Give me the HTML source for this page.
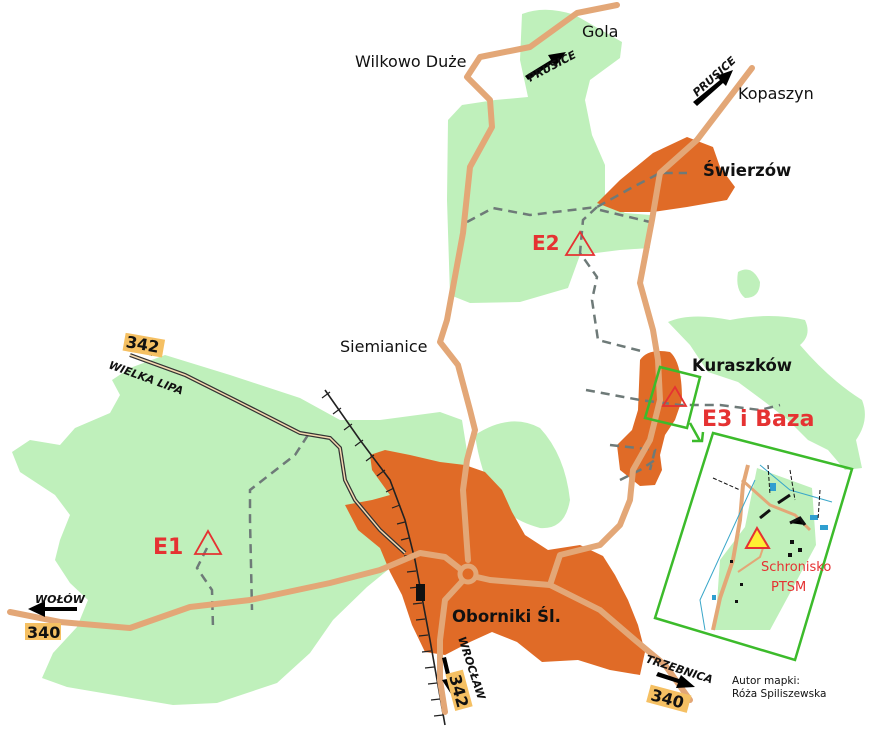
<!DOCTYPE html>
<html><head><meta charset="utf-8"><style>
html,body{margin:0;padding:0;background:#fff;}
svg{display:block;}
text{font-family:"DejaVu Sans","Liberation Sans",sans-serif;}
.b{font-family:"Liberation Sans",sans-serif;font-weight:bold;}
</style></head><body>
<svg width="880" height="733" viewBox="0 0 880 733" xmlns="http://www.w3.org/2000/svg">
<g fill="#bff0bb">
<path d="M165,355 L230,375 L300,398 L340,420 L380,420 L440,412 L462,420 L470,470 L470,560 L400,560 L367,587 L333,620 L310,653 L277,683 L217,703 L173,705 L67,687 L42,678 L53,653 L77,627 L88,600 L70,583 L55,560 L60,540 L70,515 L55,495 L20,472 L12,452 L30,440 L60,445 L75,428 L110,413 L120,395 L112,380 L130,368 Z"/>
<path d="M475,435 Q510,412 540,428 Q565,455 570,500 Q565,530 540,528 Q510,520 495,500 Q480,470 475,435 Z"/>
<path d="M522,14 Q545,5 575,15 L622,42 L620,58 L590,80 L585,100 L592,135 L605,165 L605,200 L625,213 L650,215 L650,248 L620,250 L580,255 L568,288 L520,302 L470,303 L450,295 L447,200 L448,120 L462,105 L495,100 L528,97 L520,60 Z"/>
<path d="M668,322 Q690,312 730,320 Q770,312 805,320 Q812,335 800,345 Q830,380 862,400 Q870,420 856,440 L862,468 L845,470 L828,450 L808,440 L788,420 L765,402 L738,382 L708,372 L690,345 Z"/>
<path d="M738,272 Q752,264 760,282 Q760,298 745,298 Q735,290 738,272 Z"/>
</g>
<g fill="#e06b27">
<path d="M597,203 L620,180 L653,153 L687,137 L713,147 L720,167 L735,187 L727,200 L687,207 L653,212 L620,212 Z"/>
<path d="M640,360 Q648,348 670,352 Q682,362 682,400 L675,420 L665,435 L660,455 L662,470 L655,485 L640,486 L620,470 L617,445 L632,430 L638,410 Z"/>
<path d="M345,505 L372,500 L390,495 L372,470 L370,455 L385,450 L410,455 L440,462 L465,465 L485,472 L502,490 L512,512 L525,535 L548,550 L580,545 L603,556 L615,575 L628,600 L638,625 L645,652 L640,675 L610,670 L578,660 L542,662 L517,642 L492,632 L470,642 L445,655 L425,652 L412,625 L402,595 L390,572 L380,548 L358,530 Z"/>
</g>
<g fill="none" stroke="#6e7a78" stroke-width="2.5" stroke-dasharray="9,6">
<path d="M467,222 L493,208 L530,215 L597,207 L633,187 L660,173 L687,173"/>
<path d="M600,210 L650,222"/>
<path d="M597,207 L583,220 L580,253 L597,277 L592,300 L598,340 L645,352"/>
<path d="M586,390 L640,400 L680,405 L720,405 L760,410 L780,405"/>
<path d="M610,445 L655,450 L650,470"/>
<path d="M620,480 L640,470 L655,460"/>
<path d="M308,435 L295,455 L250,490 L250,520 L252,610"/>
<path d="M207,548 L197,568 L212,590 L213,628"/>
</g>
<g stroke="#222" stroke-width="1.6" fill="none">
<path d="M325,390 L360,440 L390,480 L405,520 L415,560 L430,640 L445,725"/>
</g>
<g stroke="#222" stroke-width="1.2">
<path d="M322,398 L330,392 M333,414 L341,408 M344,430 L352,424 M355,446 L363,440 M366,461 L374,455 M377,476 L385,470 M386,492 L394,488 M392,508 L400,505 M397,524 L405,522 M401,540 L409,538 M404,556 L413,555 M407,572 L416,571 M410,588 L419,587 M413,604 L422,603 M416,620 L425,619 M419,636 L428,635 M422,652 L431,651 M425,668 L434,667 M428,684 L437,683 M431,700 L440,699 M434,716 L443,715"/>
</g>
<rect x="416" y="584" width="9" height="17" fill="#111"/>
<path d="M130,355 L185,375 L235,400 L300,433 L330,438 L340,448 L345,480 L355,500 L380,530 L405,553" fill="none" stroke="#333" stroke-width="4"/>
<path d="M130,355 L185,375 L235,400 L300,433 L330,438 L340,448 L345,480 L355,500 L380,530 L405,553" fill="none" stroke="#f5d9b0" stroke-width="1.5"/>
<g fill="none" stroke="#e3a777" stroke-width="6" stroke-linecap="round" stroke-linejoin="round">
<path d="M10,612 L60,622 L130,628 L190,607 L250,600 L330,583 L380,570 L420,553 L445,557 L468,575 L490,580 L550,585 L600,610 L635,640 L665,665 L690,700"/>
<path d="M617,5 L577,13 L530,47 L480,57 L467,77 L490,100 L492,127 L470,167 L463,233 L447,320 L440,342 L458,365 L470,410 L475,430 L467,460 L463,490 L468,560"/>
<path d="M752,68 L697,140 L660,173 L652,220 L640,283 L653,330 L658,360 L660,400 L650,440 L633,470 L630,500 L620,525 L600,545 L560,555 L550,585"/>
<path d="M468,575 L445,600 L440,640 L440,680 L445,712"/>
</g>
<circle cx="468" cy="574" r="8" fill="#e06b27" stroke="#e3a777" stroke-width="5"/>
<g fill="#000">
<path d="M525,76 L551,60 L548,55 L566,52 L555,67 L553,63 L528,80 Z"/>
<path d="M693,102 L720,80 L716,76 L733,70 L726,86 L723,83 L697,106 Z"/>
<path d="M77,607 L45,607 L45,601 L28,609 L45,617 L45,611 L77,611 Z"/>
<path d="M160,343 L150,347 L148,342 L134,350 L152,356 L151,351 L162,347 Z"/>
<path d="M442,658 L447,679 L442,680 L451,694 L455,678 L451,678 L446,657 Z"/>
<path d="M656,676 L678,683 L676,688 L695,687 L681,675 L679,679 L658,672 Z"/>
</g>
<g fill="#f5c063">
<rect x="124" y="336" width="40" height="18" transform="rotate(10 143 344)"/>
<rect x="25" y="623" width="36" height="17"/>
<rect x="441" y="682" width="38" height="18" transform="rotate(75 460 690)"/>
<rect x="648" y="690" width="42" height="18" transform="rotate(15 670 698)"/>
</g>
<g class="b" font-size="16" fill="#111">
<text x="126" y="350" transform="rotate(10 143 344)">342</text>
<text x="27" y="638">340</text>
<text x="444" y="697" transform="rotate(75 460 690)">342</text>
<text x="651" y="705" transform="rotate(15 670 698)">340</text>
</g>
<g class="b" font-size="11" font-style="italic" fill="#111">
<text x="530" y="82" transform="rotate(-28 530 82)">PRUSICE</text>
<text x="697" y="97" transform="rotate(-42 697 97)">PRUSICE</text>
<text x="108" y="368" transform="rotate(20 108 368)">WIELKA LIPA</text>
<text x="35" y="603">WOŁÓW</text>
<text x="458" y="638" transform="rotate(72 458 638)">WROCŁAW</text>
<text x="645" y="662" transform="rotate(18 645 662)">TRZEBNICA</text>
</g>
<g font-size="16" fill="#111">
<text x="355" y="67">Wilkowo Duże</text>
<text x="582" y="37">Gola</text>
<text x="738" y="99">Kopaszyn</text>
<text x="340" y="352">Siemianice</text>
</g>
<g font-size="16.5" font-weight="bold" fill="#111">
<text x="703" y="176">Świerzów</text>
<text x="692" y="371">Kuraszków</text>
<text x="452" y="622">Oborniki Śl.</text>
</g>
<g font-family="Liberation Sans" font-size="10.5" fill="#111">
<text x="732" y="684">Autor mapki:</text>
<text x="732" y="697">Róża Spiliszewska</text>
</g>
<g fill="none" stroke="#e53232" stroke-width="1.8">
<path d="M208,531 L221,554 L195,554 Z"/>
<path d="M580,232 L594,255 L566,255 Z"/>
<path d="M675,387 L686,406 L663,406 Z"/>
</g>
<g class="b" fill="#e53232">
<text x="153" y="554" font-size="22">E1</text>
<text x="532" y="250" font-size="20">E2</text>
<text x="702" y="426" font-size="22">E3 i Baza</text>
</g>
<g fill="none" stroke="#3cbb2b" stroke-width="2.5">
<path d="M660,367 L700,377 L687,428 L645,418 Z"/>
<path d="M713,433 L852,469 L795,660 L655,618 Z"/>
<path d="M690,423 L700,441 M692,441 L702,441 L703,432"/>
</g>
<g>
<path d="M757,468 L812,488 L816,545 L770,630 L715,630 L720,560 L745,527 Z" fill="#bff0bb"/>
<path d="M748,465 L743,485 L740,520 L733,560 L720,598 L713,630" fill="none" stroke="#e3a777" stroke-width="4"/>
<path d="M742,480 L770,505 L795,515 L810,530" fill="none" stroke="#e3a777" stroke-width="3"/>
<path d="M738,572 L760,557 L763,548" fill="none" stroke="#e3a777" stroke-width="2"/>
<path d="M760,465 L790,490 L832,502 M755,480 L700,600 L705,630" fill="none" stroke="#3aa7c9" stroke-width="1"/>
<path d="M760,518 L770,510 M778,503 L790,495 M790,523 L800,518 L805,525" stroke="#111" stroke-width="3"/>
<g fill="#2f9fd0"><rect x="770" y="483" width="6" height="8"/><rect x="810" y="515" width="8" height="5"/><rect x="820" y="525" width="8" height="5"/><rect x="712" y="595" width="4" height="5"/></g>
<path d="M757,528 L769,548 L746,548 Z" fill="#ffee33" stroke="#e53232" stroke-width="2"/>
<g fill="#111"><rect x="790" y="540" width="4" height="4"/><rect x="798" y="548" width="4" height="4"/><rect x="788" y="553" width="4" height="4"/><rect x="740" y="583" width="3" height="3"/><rect x="735" y="600" width="3" height="3"/><rect x="730" y="560" width="3" height="3"/></g>
<path d="M713,478 L740,490 M768,465 L770,495 M790,470 L795,500 M820,490 L818,520" fill="none" stroke="#111" stroke-width="1" stroke-dasharray="4,2"/>
<text x="761" y="571" font-family="Liberation Sans" font-size="13" fill="#e53232">Schronisko</text>
<text x="771" y="591" font-family="Liberation Sans" font-size="13" fill="#e53232">PTSM</text>
</g>
</svg>
</body></html>
